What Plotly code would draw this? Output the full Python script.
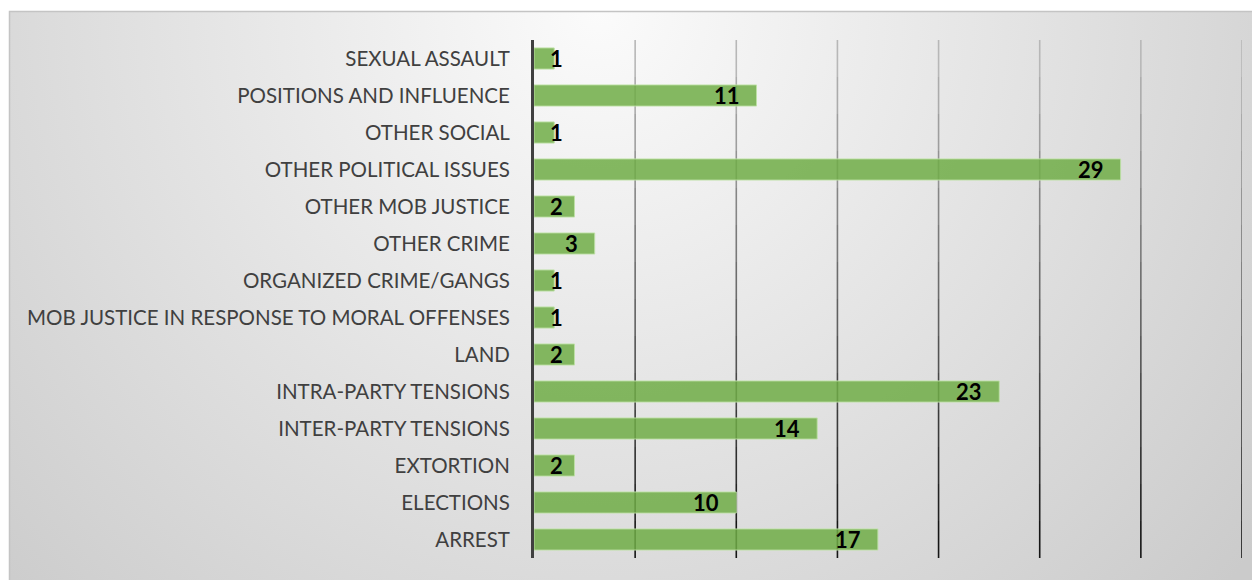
import base64
import plotly.graph_objects as go

# categories listed bottom to top, as plotly draws them
categories = [
    "ARREST",
    "ELECTIONS",
    "EXTORTION",
    "INTER-PARTY TENSIONS",
    "INTRA-PARTY TENSIONS",
    "LAND",
    "MOB JUSTICE IN RESPONSE TO MORAL OFFENSES",
    "ORGANIZED CRIME/GANGS",
    "OTHER CRIME",
    "OTHER MOB JUSTICE",
    "OTHER POLITICAL ISSUES",
    "OTHER SOCIAL",
    "POSITIONS AND INFLUENCE",
    "SEXUAL ASSAULT",
]
counts = [17, 10, 2, 14, 23, 2, 1, 1, 3, 2, 29, 1, 11, 1]
grid_values = [5, 10, 15, 20, 25, 30, 35]

# the page body has an 8px margin, so the figure is shrunk to fit the window
W, H = 1252, 572
M_L, M_R, M_T, M_B = 526, 18, 32, 22
plot_w = W - M_L - M_R
plot_h = H - M_T - M_B


def px_to_paper_x(px):
    return (px - M_L) / plot_w


def px_to_paper_y(py):
    return (H - M_B - py) / plot_h


# soft radial grey background, like the office chart area fill
bg_svg = (
    '<svg xmlns="http://www.w3.org/2000/svg" width="1260" height="580" '
    'viewBox="0 0 1260 580" preserveAspectRatio="none">'
    '<defs><radialGradient id="g" gradientUnits="userSpaceOnUse" cx="590" cy="0" r="850">'
    '<stop offset="0" stop-color="#fbfbfb"/><stop offset="1" stop-color="#cbcbcb"/>'
    '</radialGradient></defs>'
    '<rect x="0" y="0" width="1260" height="580" fill="url(#g)"/></svg>'
)
bg_src = "data:image/svg+xml;base64," + base64.b64encode(bg_svg.encode()).decode()

fig = go.Figure()

fig.add_trace(go.Bar(
    x=counts,
    y=categories,
    orientation="h",
    width=0.57,
    marker=dict(color="rgba(112,173,71,0.85)",
                line=dict(color="rgba(190,225,165,0.9)", width=1)),
    hoverinfo="skip",
))

# value labels: inside end, pushed to the bar start when the bar is short
label_font = dict(family="Lato", size=22, color="#000000", weight="bold")
annotations = []
for cat, v in zip(categories, counts):
    if v <= 2:
        annotations.append(dict(x=0, y=cat, text=str(v), xanchor="left", xshift=14,
                                showarrow=False, font=label_font))
    else:
        annotations.append(dict(x=v, y=cat, text=str(v), xanchor="right", xshift=-15,
                                showarrow=False, font=label_font))

shapes = []
# frame of the chart area
shapes.append(dict(type="rect", xref="paper", yref="paper",
                   x0=px_to_paper_x(1.5), x1=px_to_paper_x(W + 20),
                   y0=px_to_paper_y(H + 20), y1=px_to_paper_y(3.5),
                   line=dict(color="#c4c4c4", width=1.5), fillcolor="rgba(0,0,0,0)",
                   layer="below"))

# gridlines fading from light grey at the top to black at the bottom
n_seg = 14
for gv in grid_values:
    for i in range(n_seg):
        t = (i + 0.5) / n_seg
        c = int(190 - 175 * t)
        shapes.append(dict(type="line", xref="x", yref="paper",
                           x0=gv, x1=gv, y0=1 - i / n_seg, y1=1 - (i + 1) / n_seg,
                           line=dict(color=f"rgb({c},{c},{c})", width=1.6),
                           layer="below"))

fig.update_layout(
    width=W,
    height=H,
    margin=dict(l=M_L, r=M_R, t=M_T, b=M_B, pad=0),
    paper_bgcolor="#ffffff",
    plot_bgcolor="rgba(0,0,0,0)",
    showlegend=False,
    images=[dict(source=bg_src, xref="paper", yref="paper",
                 x=px_to_paper_x(1), y=px_to_paper_y(3),
                 sizex=1260 / plot_w, sizey=580 / plot_h,
                 xanchor="left", yanchor="top", sizing="stretch", layer="below")],
    shapes=shapes,
    annotations=annotations,
    xaxis=dict(range=[0, 35], showgrid=False, zeroline=False, showticklabels=False,
               ticks="", showline=False, fixedrange=True),
    yaxis=dict(type="category", categoryorder="array", categoryarray=categories,
               range=[-0.5, len(categories) - 0.5],
               showgrid=False, zeroline=False, ticks="",
               showline=True, linecolor="#404040", linewidth=3,
               ticklabelstandoff=17,
               tickfont=dict(family="Lato", size=20.5, color="#404040"),
               fixedrange=True),
)

fig.write_html("out.html")
